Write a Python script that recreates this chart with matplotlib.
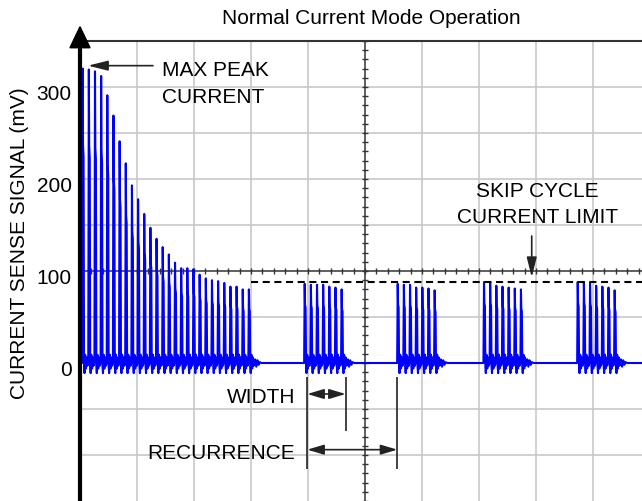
import numpy as np
import matplotlib
matplotlib.use('Agg')
import matplotlib.pyplot as plt
from matplotlib.transforms import ScaledTranslation

plt.rcParams['font.family'] = ['Liberation Sans', 'DejaVu Sans']

# x is in scope divisions, y in mV
# peaks of the continuous switching at start-up
startup_peaks = [320, 319, 317, 312, 291, 269, 241, 217, 193, 178, 162, 147, 135, 126,
                 118, 109, 103, 103, 102, 96, 92, 90, 89, 87, 83, 83, 80, 80]
startup_t0 = 0.047
# skip cycle bursts: start of each burst and the peak of each pulse
burst_starts = [3.942, 5.574, 7.088, 8.732]
burst_peaks = [
    [86, 85, 85, 85, 83, 82, 80],
    [86, 85, 85, 82, 82, 81, 79],
    [88, 88, 84, 83, 82, 81, 80],
    [88, 88, 87, 84, 83, 82, 79],
]
period = 0.108
skip_limit = 88
ytick_vals = [0, 100, 200, 300]

# one switching cycle, offsets from the peak
cyc_dt = [-0.010, 0.0, 0.006, 0.016, 0.024, 0.032, 0.044, 0.057, 0.070, 0.084, 0.097]
cyc_frac = [0, 1, 0.74, 0.7, 0, 0, 0, 0, 0, 0, 0]
cyc_ring = [0, 0, 0, 0, -4, -11, 9, -6, 6, -3, 0]
# ringing after the last pulse of a group
tail_dt = [0.11, 0.13, 0.15, 0.17, 0.19, 0.22]
tail_mv = [4, -4, 3, -2, 1, 0]


def group(t0, peaks):
    xs, ys = [], []
    for k, h in enumerate(peaks):
        tp = t0 + k * period
        for dt, f, r in zip(cyc_dt, cyc_frac, cyc_ring):
            xs.append(tp + dt)
            ys.append(f * h + r)
    tl = t0 + (len(peaks) - 1) * period
    for dt, v in zip(tail_dt, tail_mv):
        xs.append(tl + dt)
        ys.append(v)
    return xs, ys


tx, ty = [0.0], [0.0]
for t0, pk in [(startup_t0, startup_peaks)] + list(zip(burst_starts, burst_peaks)):
    gx, gy = group(t0, pk)
    tx += gx
    ty += gy
tx.append(9.9)
ty.append(0)

fig = plt.figure(figsize=(6.42, 5.02), dpi=100)
ax = fig.add_axes([80 / 642, 0, 562 / 642, 460 / 502])
xmax = 562 / 57
ax.set_xlim(0, xmax)
ax.set_ylim(-150, 350)
for s in ax.spines.values():
    s.set_visible(False)
ax.set_xticks([])
ax.set_yticks(ytick_vals)
ax.tick_params(axis='y', length=0, labelsize=15, pad=6)
shift = ScaledTranslation(0, -3.6 / 72, fig.dpi_scale_trans)
for lab in ax.get_yticklabels():
    lab.set_transform(lab.get_transform() + shift)

# graticule
grid_c = '#c8c8c8'
for v in range(-100, 350, 50):
    if v != 100:
        ax.axhline(v, color=grid_c, lw=1.2, zorder=0)
for d in range(1, 10):
    if d != 5:
        ax.axvline(d, color=grid_c, lw=1.2, zorder=0)
ax.axhline(100, color='#333333', lw=1.1, zorder=1)
ax.axvline(5, color='#333333', lw=1.1, zorder=1)
ax.vlines(np.arange(0, xmax, 0.2), 96.7, 103.3, color='#333333', lw=1, zorder=1)
ax.hlines(np.arange(-150, 351, 10), 5 - 0.053, 5 + 0.053, color='#333333', lw=1, zorder=1)
ax.plot([0.14, xmax], [350, 350], color='#333333', lw=1.5, clip_on=False)

# signal
ax.plot(tx, ty, color='#0000ff', lw=1.5, zorder=3)
ax.plot([3.0, xmax], [skip_limit, skip_limit], color='black', lw=1.5,
        dashes=(3.4, 2.2), zorder=4)

# y axis with arrow
ax.plot([0, 0], [-150, 344], color='black', lw=3, clip_on=False,
        solid_capstyle='butt', zorder=5)
ax.fill([-0.1754, 0.1754, 0], [342.7, 342.7, 365.5], color='black',
        clip_on=False, zorder=5)

fig.text(371.5 / 642, 1 - 24 / 502, 'Normal Current Mode Operation',
         ha='center', va='baseline', fontsize=15)
fig.text(20 / 642, 1 - 243 / 502, 'CURRENT SENSE SIGNAL (mV)', rotation=90,
         ha='center', va='center', fontsize=15)

# annotations
kw = dict(fontsize=15, va='baseline')
ax.text(1.433, 313, 'MAX PEAK', ha='left', **kw)
ax.text(1.433, 284, 'CURRENT', ha='left', **kw)
ax.text(8.03, 181.8, 'SKIP CYCLE', ha='center', **kw)
ax.text(8.03, 153.6, 'CURRENT LIMIT', ha='center', **kw)
ax.text(3.78, -42.7, 'WIDTH', ha='right', **kw)
ax.text(3.77, -103.6, 'RECURRENCE', ha='right', **kw)

ap = dict(color='#222222', lw=1.2, shrinkA=0, shrinkB=0, mutation_scale=10)
ax.annotate('', xy=(0.14, 323.2), xytext=(1.28, 323.2),
            arrowprops=dict(arrowstyle='-|>,head_length=1.2,head_width=0.3', **ap))
ax.annotate('', xy=(7.925, 93.2), xytext=(7.925, 138),
            arrowprops=dict(arrowstyle='-|>,head_length=1.2,head_width=0.3', **ap))
ax.annotate('', xy=(3.988, -33.7), xytext=(4.661, -33.7),
            arrowprops=dict(arrowstyle='<|-|>,head_length=1.0,head_width=0.3', **ap))
ax.annotate('', xy=(3.988, -94.2), xytext=(5.567, -94.2),
            arrowprops=dict(arrowstyle='<|-|>,head_length=1.0,head_width=0.3', **ap))
ax.vlines([3.988, 5.567], -115.2, -15.2, color='#222222', lw=1.2, zorder=4)
ax.vlines([4.661], -73.6, -15.2, color='#222222', lw=1.2, zorder=4)

fig.savefig('out.png', dpi=100)
